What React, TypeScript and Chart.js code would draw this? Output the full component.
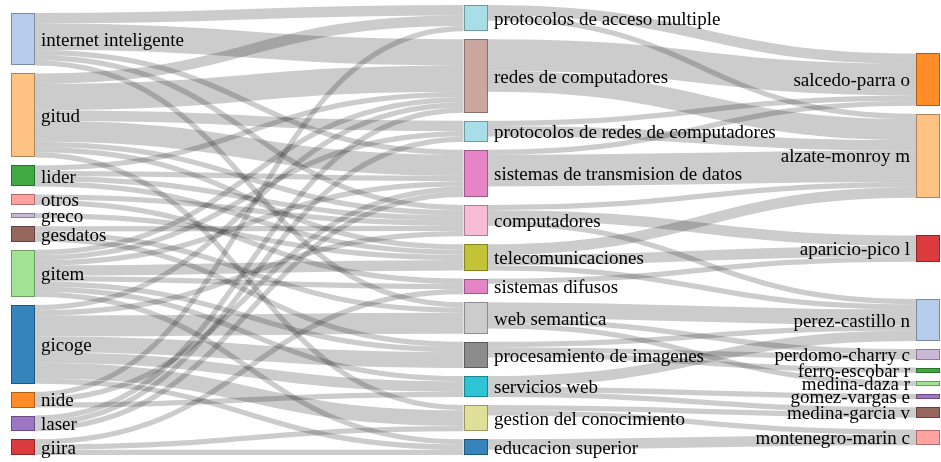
import React, { useEffect, useRef } from "react";
import { Chart, registerables } from "chart.js";

Chart.register(...registerables);

// ---------- DATA ----------
const GROUPS = [
  "internet inteligente", "gitud", "lider", "otros", "greco", "gesdatos",
  "gitem", "gicoge", "nide", "laser", "giira",
];
const TOPICS = [
  "protocolos de acceso multiple", "redes de computadores",
  "protocolos de redes de computadores", "sistemas de transmision de datos",
  "computadores", "telecomunicaciones", "sistemas difusos", "web semantica",
  "procesamiento de imagenes", "servicios web", "gestion del conocimiento",
  "educacion superior",
];
const AUTHORS = [
  "salcedo-parra o", "alzate-monroy m", "aparicio-pico l", "perez-castillo n",
  "perdomo-charry c", "ferro-escobar r", "medina-daza r", "gomez-vargas e",
  "medina-garcia v", "montenegro-marin c",
];

const GROUP_TOPIC_LINKS: [string, string, number][] = [
  ["internet inteligente", "protocolos de acceso multiple", 2],
  ["internet inteligente", "redes de computadores", 5],
  ["internet inteligente", "sistemas de transmision de datos", 1],
  ["internet inteligente", "computadores", 1],
  ["internet inteligente", "web semantica", 1],
  ["gitud", "protocolos de acceso multiple", 2],
  ["gitud", "redes de computadores", 5],
  ["gitud", "protocolos de redes de computadores", 2],
  ["gitud", "sistemas de transmision de datos", 4],
  ["gitud", "computadores", 1],
  ["gitud", "telecomunicaciones", 1],
  ["gitud", "gestion del conocimiento", 1],
  ["lider", "redes de computadores", 1],
  ["lider", "sistemas de transmision de datos", 1],
  ["lider", "computadores", 1],
  ["lider", "telecomunicaciones", 1],
  ["otros", "computadores", 1],
  ["otros", "sistemas difusos", 1],
  ["greco", "telecomunicaciones", 1],
  ["gesdatos", "computadores", 1],
  ["gesdatos", "web semantica", 1],
  ["gesdatos", "procesamiento de imagenes", 1],
  ["gitem", "redes de computadores", 1],
  ["gitem", "protocolos de redes de computadores", 1],
  ["gitem", "sistemas de transmision de datos", 1],
  ["gitem", "telecomunicaciones", 2],
  ["gitem", "sistemas difusos", 1],
  ["gitem", "procesamiento de imagenes", 1],
  ["gitem", "servicios web", 1],
  ["gitem", "educacion superior", 1],
  ["gicoge", "redes de computadores", 1],
  ["gicoge", "computadores", 1],
  ["gicoge", "web semantica", 4],
  ["gicoge", "procesamiento de imagenes", 3],
  ["gicoge", "servicios web", 2],
  ["gicoge", "gestion del conocimiento", 3],
  ["gicoge", "educacion superior", 1],
  ["nide", "protocolos de acceso multiple", 1],
  ["nide", "sistemas de transmision de datos", 1],
  ["nide", "servicios web", 1],
  ["laser", "redes de computadores", 1],
  ["laser", "protocolos de redes de computadores", 1],
  ["laser", "sistemas de transmision de datos", 1],
  ["giira", "sistemas difusos", 1],
  ["giira", "gestion del conocimiento", 1],
  ["giira", "educacion superior", 1],
];

const TOPIC_AUTHOR_LINKS: [string, string, number][] = [
  ["protocolos de acceso multiple", "salcedo-parra o", 2],
  ["redes de computadores", "salcedo-parra o", 6],
  ["protocolos de redes de computadores", "salcedo-parra o", 1],
  ["sistemas de transmision de datos", "salcedo-parra o", 1],
  ["protocolos de acceso multiple", "alzate-monroy m", 1],
  ["redes de computadores", "alzate-monroy m", 4],
  ["protocolos de redes de computadores", "alzate-monroy m", 2],
  ["sistemas de transmision de datos", "alzate-monroy m", 6],
  ["computadores", "alzate-monroy m", 1],
  ["telecomunicaciones", "alzate-monroy m", 2],
  ["computadores", "aparicio-pico l", 2],
  ["telecomunicaciones", "aparicio-pico l", 2],
  ["sistemas difusos", "aparicio-pico l", 1],
  ["computadores", "perez-castillo n", 1],
  ["telecomunicaciones", "perez-castillo n", 1],
  ["web semantica", "perez-castillo n", 3],
  ["procesamiento de imagenes", "perez-castillo n", 1],
  ["servicios web", "perez-castillo n", 2],
  ["web semantica", "perdomo-charry c", 1],
  ["procesamiento de imagenes", "perdomo-charry c", 1],
  ["procesamiento de imagenes", "ferro-escobar r", 1],
  ["web semantica", "medina-daza r", 1],
  ["servicios web", "gomez-vargas e", 1],
  ["servicios web", "medina-garcia v", 1],
  ["gestion del conocimiento", "medina-garcia v", 1],
  ["gestion del conocimiento", "montenegro-marin c", 1],
  ["educacion superior", "montenegro-marin c", 2],
];

// ---------- STYLE ----------
const CATEGORY20 = [
  "#1f77b4", "#aec7e8", "#ff7f0e", "#ffbb78", "#2ca02c", "#98df8a", "#d62728",
  "#ff9896", "#9467bd", "#c5b0d5", "#8c564b", "#c49c94", "#e377c2", "#f7b6d2",
  "#7f7f7f", "#c7c7c7", "#bcbd22", "#dbdb8d", "#17becf", "#9edae5",
];
// order in which the colour keys (first word of a name) were met
const COLOR_KEYS = [
  "gicoge", "internet", "nide", "gitud", "lider", "gitem", "giira", "otros",
  "laser", "greco", "gesdatos", "redes", "sistemas", "computadores",
  "procesamiento", "web", "telecomunicaciones", "gestion", "servicios",
  "protocolos", "educacion", "perez-castillo", "salcedo-parra", "alzate-monroy",
  "ferro-escobar", "medina-daza", "aparicio-pico", "montenegro-marin",
  "gomez-vargas", "perdomo-charry", "medina-garcia",
];
const NODE_WIDTH = 24;
const NODE_PAD = 1.525; // node padding, in value units (about 8px)
const ITERATIONS = 32;
const FONT_SIZE = 19;
const FONT = `${FONT_SIZE}px "Liberation Serif", "Times New Roman", serif`;

function colorFor(name: string) {
  const key = name.replace(/ .*/, "");
  let i = COLOR_KEYS.indexOf(key);
  if (i < 0) i = COLOR_KEYS.length;
  return CATEGORY20[i % 20];
}
function darker(hex: string, k: number) {
  const f = Math.pow(0.7, k);
  const n = parseInt(hex.slice(1), 16);
  const r = Math.round(((n >> 16) & 255) * f);
  const g = Math.round(((n >> 8) & 255) * f);
  const b = Math.round((n & 255) * f);
  return `rgb(${r},${g},${b})`;
}

// ---------- SANKEY LAYOUT (in value units) ----------
type SNode = {
  name: string; col: number; value: number; y: number; dy: number;
  sourceLinks: SLink[]; targetLinks: SLink[];
};
type SLink = { source: SNode; target: SNode; value: number; dy: number; sy: number; ty: number };

function computeLayout() {
  const columns: SNode[][] = [GROUPS, TOPICS, AUTHORS].map((names, col) =>
    names.map((name) => ({ name, col, value: 0, y: 0, dy: 0, sourceLinks: [], targetLinks: [] }))
  );
  const byName = new Map<string, SNode>();
  columns.forEach((c) => c.forEach((n) => byName.set(n.name, n)));
  const links: SLink[] = [...GROUP_TOPIC_LINKS, ...TOPIC_AUTHOR_LINKS].map(([s, t, v]) => {
    const l: SLink = { source: byName.get(s)!, target: byName.get(t)!, value: v, dy: 0, sy: 0, ty: 0 };
    l.source.sourceLinks.push(l);
    l.target.targetLinks.push(l);
    return l;
  });
  const sum = (arr: SLink[]) => arr.reduce((a, l) => a + l.value, 0);
  columns.forEach((c) => c.forEach((n) => (n.value = Math.max(sum(n.sourceLinks), sum(n.targetLinks)))));

  const size = Math.max(
    ...columns.map((c) => c.reduce((a, n) => a + n.value, 0) + (c.length - 1) * NODE_PAD)
  );
  const ky = Math.min(
    ...columns.map((c) => (size - (c.length - 1) * NODE_PAD) / c.reduce((a, n) => a + n.value, 0))
  );
  columns.forEach((c) => c.forEach((n, i) => { n.y = i; n.dy = n.value * ky; }));
  links.forEach((l) => (l.dy = l.value * ky));
  const center = (n: SNode) => n.y + n.dy / 2;

  const resolveColumn = (nodes: SNode[]) => {
    let y0 = 0;
    let node: SNode = nodes[0];
    for (let i = 0; i < nodes.length; i++) {
      node = nodes[i];
      const d = y0 - node.y;
      if (d > 0) node.y += d;
      y0 = node.y + node.dy + NODE_PAD;
    }
    let d = y0 - NODE_PAD - size;
    if (d > 0) {
      y0 = node.y -= d;
      for (let i = nodes.length - 2; i >= 0; i--) {
        node = nodes[i];
        d = node.y + node.dy + NODE_PAD - y0;
        if (d > 0) node.y -= d;
        y0 = node.y;
      }
    }
  };
  columns.forEach(resolveColumn);
  let alpha = 1;
  for (let it = ITERATIONS; it > 0; it--) {
    alpha *= 0.99;
    columns.slice().reverse().forEach((nodes) => {
      nodes.forEach((n) => {
        if (n.sourceLinks.length) {
          const y = n.sourceLinks.reduce((a, l) => a + center(l.target) * l.value, 0) / sum(n.sourceLinks);
          n.y += (y - center(n)) * alpha;
        }
      });
      resolveColumn(nodes);
    });
    columns.forEach((nodes) => {
      nodes.forEach((n) => {
        if (n.targetLinks.length) {
          const y = n.targetLinks.reduce((a, l) => a + center(l.source) * l.value, 0) / sum(n.targetLinks);
          n.y += (y - center(n)) * alpha;
        }
      });
      resolveColumn(nodes);
    });
  }
  columns.forEach((c) => c.forEach((n) => {
    n.sourceLinks.sort((a, b) => a.target.y - b.target.y);
    n.targetLinks.sort((a, b) => a.source.y - b.source.y);
    let sy = 0, ty = 0;
    n.sourceLinks.forEach((l) => { l.sy = sy; sy += l.dy; });
    n.targetLinks.forEach((l) => { l.ty = ty; ty += l.dy; });
  }));
  return { columns, links, size };
}

const LAYOUT = computeLayout();

const sankeyPlugin = {
  id: "sankeyDraw",
  afterDatasetsDraw(chart: any) {
    const { ctx, scales } = chart;
    const xs = scales.x, ys = scales.y;
    const px = (c: number) => xs.getPixelForValue(c);
    const py = (v: number) => ys.getPixelForValue(v);
    ctx.save();
    // links
    ctx.strokeStyle = "rgba(0,0,0,0.2)";
    ctx.lineCap = "butt";
    for (const l of LAYOUT.links) {
      const x0 = px(l.source.col) + NODE_WIDTH;
      const x1 = px(l.target.col);
      const x2 = x0 + (x1 - x0) * 0.5;
      const x3 = x0 + (x1 - x0) * 0.5;
      const y0 = py(l.source.y + l.sy + l.dy / 2);
      const y1 = py(l.target.y + l.ty + l.dy / 2);
      ctx.lineWidth = Math.max(1, py(l.dy) - py(0));
      ctx.beginPath();
      ctx.moveTo(x0, y0);
      ctx.bezierCurveTo(x2, y0, x3, y1, x1, y1);
      ctx.stroke();
    }
    // nodes
    const mid = (px(0) + px(2) + NODE_WIDTH) / 2;
    ctx.font = FONT;
    ctx.textBaseline = "alphabetic";
    for (const col of LAYOUT.columns) {
      for (const n of col) {
        const x = Math.round(px(n.col));
        const yTop = Math.round(py(n.y));
        const yBot = Math.round(py(n.y + n.dy));
        const h = Math.max(1, yBot - yTop);
        const c = colorFor(n.name);
        ctx.globalAlpha = 0.9;
        ctx.fillStyle = c;
        ctx.fillRect(x, yTop, NODE_WIDTH, h);
        ctx.globalAlpha = 1;
        ctx.strokeStyle = darker(c, 2);
        ctx.lineWidth = 1;
        ctx.globalAlpha = 0.6;
        ctx.strokeRect(x + 0.5, yTop + 0.5, NODE_WIDTH - 1, h - 1);
        ctx.globalAlpha = 1;
        ctx.fillStyle = "#000";
        const cy = (py(n.y) + py(n.y + n.dy)) / 2 + FONT_SIZE * 0.35;
        if (x < mid) {
          ctx.textAlign = "left";
          ctx.fillText(n.name, x + NODE_WIDTH + 6, cy);
        } else {
          ctx.textAlign = "right";
          ctx.fillText(n.name, x - 6, cy);
        }
      }
    }
    ctx.restore();
  },
};

export default function App() {
  const ref = useRef<HTMLCanvasElement | null>(null);
  useEffect(() => {
    if (!ref.current) return;
    const points = LAYOUT.columns.flat().map((n) => ({ x: n.col, y: n.y + n.dy / 2 }));
    const chart = new Chart(ref.current, {
      type: "scatter",
      data: { datasets: [{ data: points, pointRadius: 0, pointHoverRadius: 0 }] },
      options: {
        animation: false,
        responsive: false,
        devicePixelRatio: 1,
        events: [],
        layout: { padding: { left: 11, right: 25, top: 5, bottom: 7 } },
        scales: {
          x: { type: "linear", min: 0, max: 2, display: false },
          y: { type: "linear", min: 0, max: LAYOUT.size, reverse: true, display: false },
        },
        plugins: { legend: { display: false }, tooltip: { enabled: false } },
      },
      plugins: [sankeyPlugin],
    } as any);
    return () => chart.destroy();
  }, []);
  return (
    <div style={{ position: "absolute", left: 0, top: 0, width: 941, height: 462, background: "#fff" }}>
      <canvas ref={ref} width={941} height={462} style={{ display: "block" }} />
    </div>
  );
}
